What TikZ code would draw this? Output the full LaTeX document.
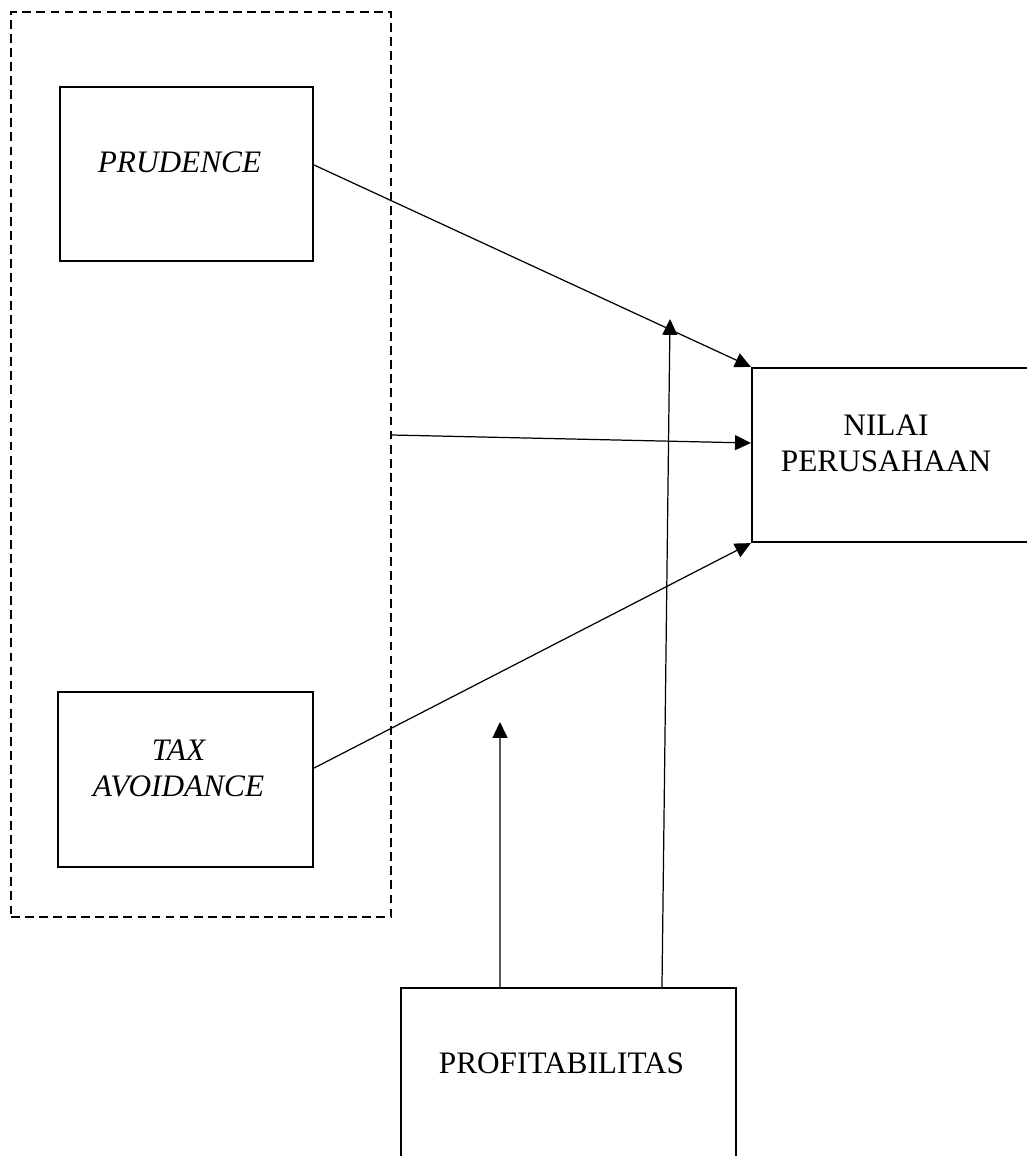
\documentclass[tikz,border=0pt]{standalone}
\usepackage{fontspec}
\setmainfont{Liberation Serif}
\usetikzlibrary{arrows.meta}
\begin{document}
\begin{tikzpicture}[x=0.02cm,y=-0.02cm,
  box/.style={draw,line width=1.3pt,minimum width=5.06cm,minimum height=3.48cm,inner sep=0pt},
  lbl/.style={align=center,font=\fontsize{17.8}{20.4}\selectfont,xshift=-0.14cm,yshift=0.23cm},
  arr/.style={line width=0.7pt,-{Triangle[length=9pt,width=8.5pt]}}]
\useasboundingbox (0,0) rectangle (1027,1156);
% group of independent variables
\node[draw,dash pattern=on 5pt off 3pt,line width=1.3pt,minimum width=7.6cm,minimum height=18.1cm,inner sep=0pt] (grp) at (201,464.5) {};
\node[box] (prud) at (186.5,174) {};
\node[box,minimum width=5.1cm,minimum height=3.5cm] (tax) at (185.5,779.5) {};
\node[box,minimum width=5.64cm] (nilai) at (893,455) {};
\node[box,minimum width=6.7cm] (profit) at (568.5,1075) {};
% texts
\node[lbl] (tprud) at (prud.center) {\itshape PRUDENCE};
\node[lbl] (ttax) at (tax.center) {\itshape TAX\\\itshape AVOIDANCE};
\node[lbl] (tnilai) at (nilai.center) {NILAI\\PERUSAHAAN};
\node[lbl] (tprofit) at (profit.center) {PROFITABILITAS};
% moderation targets
\coordinate (m1) at (500,722);
\coordinate (m2) at (670,319);
% connectors
\draw[arr] ([yshift=0.18cm]prud.east) -- (nilai.north west);
\draw[arr] ([yshift=0.59cm]grp.east) -- ([yshift=0.24cm]nilai.west);
\draw[arr] ([yshift=0.23cm]tax.east) -- (nilai.south west);
\draw[arr] ([xshift=-1.37cm]profit.north) -- (m1);
\draw[arr] ([xshift=1.87cm]profit.north) -- (m2);
\end{tikzpicture}
\end{document}
